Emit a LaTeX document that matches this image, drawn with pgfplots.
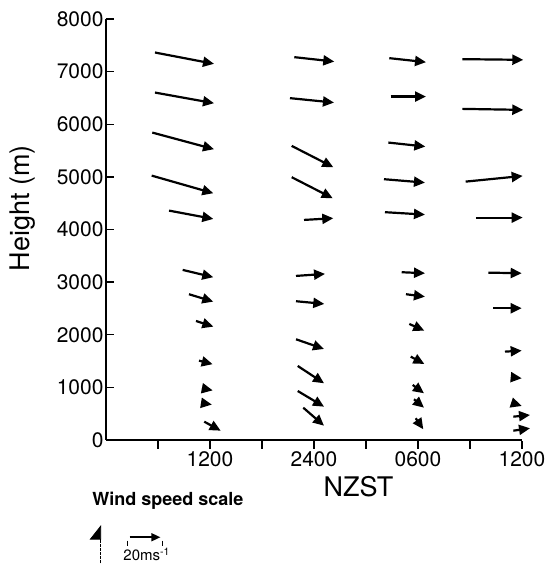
\documentclass[border=0pt]{standalone}
\usepackage{fontspec}
\setmainfont{TeX Gyre Heros}
\usepackage{pgfplots}
\pgfplotsset{compat=1.18}
\usepackage{pgfplotstable}
\usetikzlibrary{arrows.meta}

\pgfplotstableread{
x y u v
0.942 7363 1.135 -215
0.942 6602 1.135 -202
0.890 5842 1.187 -316
0.879 5024 1.185 -335
1.212 4359 0.852 -158
1.475 3232 0.588 -139
1.596 2770 0.467 -141
1.731 2262 0.333 -108
1.788 1508 0.263 -68
1.846 983 0.206 -40
1.846 703 0.19 -30
1.890 348 0.315 -171
}\colA
\pgfplotstableread{
x y u v
3.621 7275 0.769 -84
3.538 6496 0.846 -84
3.571 5589 0.800 -405
3.571 4994 0.788 -399
3.808 4182 0.563 32
3.654 3118 0.558 38
3.654 2637 0.544 -51
3.654 1914 0.538 -184
3.687 1407 0.506 -329
3.687 931 0.506 -298
3.794 614 0.398 -342
}\colB
\pgfplotstableread{
x y u v
5.448 7256 0.706 -76
5.475 6526 0.679 0
5.429 5652 0.712 -76
5.346 4956 0.788 -65
5.365 4329 0.769 -46
5.687 3188 0.448 -19
5.769 2770 0.365 -46
5.833 2205 0.288 -127
5.860 1584 0.262 -139
5.898 1046 0.217 -158
5.923 774 0.192 -160
5.956 413 0.146 -209
}\colC
\pgfplotstableread{
x y u v
6.852 7237 1.173 -13
6.852 6292 1.173 -19
6.917 4910 1.096 108
7.115 4226 0.898 0
7.352 3180 0.642 -11
7.448 2504 0.546 0
7.673 1679 0.321 19
7.802 1192 0.192 -19
7.802 709 0.192 -63
7.833 443 0.321 32
7.833 177 0.321 46
}\colD

\begin{document}
\begin{tikzpicture}
\path[use as bounding box] (-106pt,-127pt) rectangle (438pt,440pt);
\begin{axis}[
  at={(0,0)}, anchor=south west,
  scale only axis, width=416pt, height=421pt,
  xmin=0, xmax=8, ymin=0, ymax=8000,
  clip=false,
  axis lines*=left,
  axis line style={line width=1.6pt},
  xtick={1,2,3,4,5,6,7,8},
  xticklabels={,1200,,2400,,0600,,1200},
  ytick={0,1000,2000,3000,4000,5000,6000,7000,8000},
  scaled y ticks=false,
  tick align=inside, major tick length=8pt,
  tick style={line width=1.3pt, black},
  x tick style={yshift=-9pt},
  /pgf/number format/assume math mode=true,
  /pgf/number format/1000 sep={},
  ticklabel style={font=\fontsize{21}{24}\selectfont},
  yticklabel style={xshift=1pt},
  xticklabel style={yshift=-8pt},
  xlabel={NZST}, ylabel={Height (m)},
  xlabel style={font=\fontsize{27}{30}\selectfont, at={(rel axis cs:0.607,-0.1116)}, anchor=center},
  ylabel style={font=\fontsize{27}{30}\selectfont, at={(rel axis cs:-0.1995,0.551)}, anchor=center},
]
\addplot[quiver={u=\thisrow{u}, v=\thisrow{v}}, -{Triangle[length=11pt,width=10pt]}, line width=2.2pt, black] table[x=x,y=y] {\colA};
\addplot[quiver={u=\thisrow{u}, v=\thisrow{v}}, -{Triangle[length=11pt,width=10pt]}, line width=2.2pt, black] table[x=x,y=y] {\colB};
\addplot[quiver={u=\thisrow{u}, v=\thisrow{v}}, -{Triangle[length=11pt,width=10pt]}, line width=2.2pt, black] table[x=x,y=y] {\colC};
\addplot[quiver={u=\thisrow{u}, v=\thisrow{v}}, -{Triangle[length=11pt,width=10pt]}, line width=2.2pt, black] table[x=x,y=y] {\colD};
% wind speed scale (20 m/s)
\addplot[quiver={u=\thisrow{u}, v=\thisrow{v}}, -{Triangle[length=9pt,width=8pt]}, line width=1.6pt, black] table {
x y u v
0.452 -1848 0.594 0
};
\addplot[quiver={u=\thisrow{u}, v=\thisrow{v}}, -{Triangle[harpoon,length=14pt,width=22pt]}, line width=0.8pt, black, dash pattern=on 3pt off 1pt] table {
x y u v
-0.102 -2344 0 728
};
\addplot[line width=0.8pt, black] coordinates {(0.412,-1914) (0.412,-2015)};
\addplot[line width=0.8pt, black] coordinates {(1.077,-1914) (1.077,-2015)};
\node[anchor=west, font=\fontsize{18}{21}\selectfont\bfseries] at (axis cs:-0.33,-1160) {Wind speed scale};
\node[anchor=center, font=\fontsize{15}{17}\selectfont] at (axis cs:0.783,-2179) {20ms\textsuperscript{-1}};
\end{axis}
\end{tikzpicture}
\end{document}
